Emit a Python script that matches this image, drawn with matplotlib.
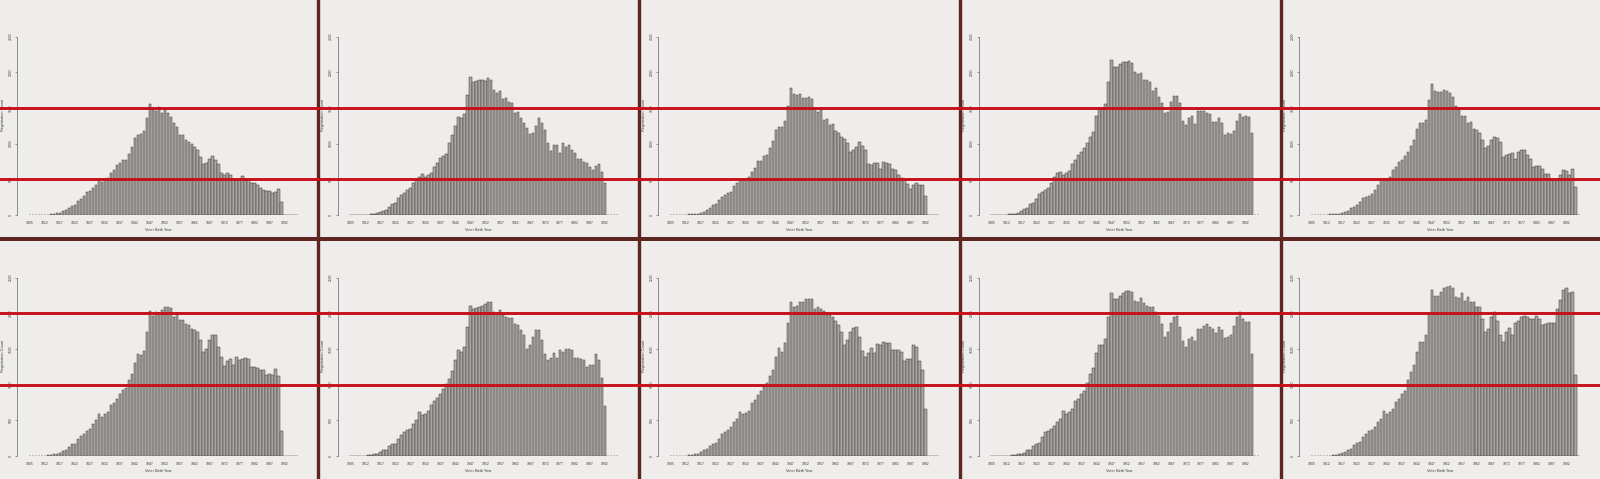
import numpy as np
import matplotlib.pyplot as plt
from matplotlib.lines import Line2D

plt.rcParams["font.family"] = ["Liberation Sans", "DejaVu Sans"]

W_PX, H_PX = 1600, 479

X_TICK_LABELS = ["1905", "1912", "1917", "1922", "1927", "1932", "1937", "1942", "1947",
                 "1952", "1957", "1962", "1967", "1972", "1977", "1982", "1987", "1992"]
Y_TICKS = [0, 500, 1000, 1500, 2000, 2500]
X_LABEL = "Voter Birth Year"
Y_LABEL = "Registration Count"

# reference lines drawn across each row
TOP_REF_LINES = [500, 1500]
BOTTOM_REF_LINES = [1000, 2000]

# registration counts per birth-year bar
top_1 = [0, 0, 0, 0, 0, 0,
         5, 10, 20, 25, 35, 55, 70, 95, 130, 140,
         200, 225, 265, 320, 330, 375, 420, 485, 465, 505,
         515, 585, 630, 700, 725, 770, 770, 855, 960, 1075,
         1120, 1130, 1180, 1355, 1550, 1470, 1460, 1510, 1425, 1480,
         1435, 1380, 1285, 1230, 1125, 1120, 1050, 1030, 995, 960,
         910, 820, 715, 725, 780, 825, 770, 715, 590, 565,
         595, 560, 500, 490, 490, 550, 490, 500, 445, 445,
         415, 375, 350, 335, 330, 305, 320, 360, 180,
         0, 0, 0, 0, 0]
top_2 = [0, 0, 0, 0, 0, 0,
         5, 10, 15, 25, 40, 60, 70, 115, 155, 175,
         235, 280, 305, 350, 375, 445, 490, 535, 575, 535,
         560, 585, 680, 725, 795, 830, 855, 1015, 1120, 1250,
         1370, 1355, 1415, 1680, 1930, 1870, 1885, 1890, 1890, 1880,
         1920, 1890, 1750, 1705, 1745, 1625, 1635, 1590, 1575, 1435,
         1450, 1355, 1295, 1215, 1135, 1145, 1250, 1355, 1285, 1190,
         1015, 900, 980, 980, 875, 1005, 960, 980, 910, 865,
         785, 780, 740, 725, 680, 630, 690, 710, 600, 455,
         0, 0, 0, 0]
top_3 = [0, 0, 0, 0, 0, 0,
         10, 10, 15, 20, 35, 45, 70, 100, 140, 155,
         205, 255, 280, 315, 325, 400, 445, 490, 500, 510,
         535, 605, 665, 755, 760, 830, 845, 945, 1035, 1190,
         1240, 1240, 1320, 1535, 1780, 1700, 1685, 1700, 1645, 1645,
         1655, 1620, 1490, 1450, 1475, 1335, 1350, 1265, 1275, 1180,
         1150, 1100, 1060, 1015, 885, 915, 955, 1030, 965, 905,
         710, 700, 735, 730, 650, 745, 730, 720, 650, 625,
         560, 520, 490, 430, 370, 420, 450, 420, 420, 265,
         0, 0, 0, 0]
top_4 = [0, 0, 0, 0, 0,
         5, 10, 15, 20, 35, 55, 80, 105, 155, 170, 230, 290, 320, 350, 380,
         450, 535, 585, 600, 560, 585, 620, 715, 770, 835,
         890, 935, 1005, 1100, 1170, 1390, 1495, 1495, 1555, 1870,
         2175, 2080, 2080, 2115, 2140, 2145, 2155, 2135, 2010, 1975,
         1995, 1890, 1890, 1870, 1745, 1775, 1660, 1565, 1435, 1450,
         1590, 1670, 1670, 1575, 1320, 1260, 1355, 1390, 1275, 1460,
         1465, 1460, 1425, 1415, 1300, 1310, 1355, 1285,
         1120, 1145, 1130, 1180, 1320, 1415, 1380, 1395, 1380, 1145,
         0, 0]
top_5 = [0, 0, 0, 0, 0, 0,
         10, 10, 15, 20, 30, 45, 55, 95, 115, 140,
         185, 240, 255, 270, 300, 350, 420, 500, 500, 510,
         535, 630, 675, 745, 770, 825, 880, 965, 1055, 1210,
         1295, 1295, 1335, 1615, 1835, 1745, 1720, 1730, 1755, 1735,
         1705, 1660, 1535, 1495, 1395, 1395, 1295, 1300, 1200, 1185,
         1155, 1045, 940, 965, 1045, 1100, 1080, 1030, 815, 835,
         850, 865, 780, 885, 905, 905, 835, 790, 675, 690,
         690, 640, 570, 570, 500, 490, 490, 560, 635, 620,
         560, 640, 395,
         0]
bottom_1 = [0, 0, 0, 0, 0,
            5, 10, 15, 25, 35, 45, 70, 85, 130, 165,
            175, 245, 285, 315, 355, 385, 455, 500, 595, 550,
            585, 610, 710, 750, 805, 865, 920, 955, 1060, 1155,
            1305, 1430, 1410, 1475, 1745, 2035, 1965, 2015, 2000, 2050,
            2095, 2085, 2075, 1950, 2000, 1910, 1905, 1850, 1840, 1780,
            1760, 1735, 1620, 1455, 1500, 1620, 1690, 1690, 1525, 1385,
            1255, 1330, 1360, 1280, 1395, 1340, 1360, 1370, 1360, 1245,
            1245, 1235, 1200, 1200, 1140, 1145, 1130, 1215, 1120, 350,
            0, 0, 0, 0, 0]
bottom_2 = [0, 0, 0, 0, 0,
            5, 10, 15, 25, 35, 50, 85, 85, 140, 165,
            175, 245, 300, 340, 370, 385, 445, 510, 610, 570,
            595, 630, 720, 765, 820, 875, 945, 1015, 1085, 1195,
            1350, 1480, 1455, 1530, 1815, 2105, 2060, 2070, 2095, 2105,
            2130, 2160, 2160, 2015, 1990, 2050, 1975, 1945, 1935, 1930,
            1850, 1830, 1765, 1690, 1500, 1560, 1675, 1765, 1765, 1620,
            1430, 1340, 1370, 1445, 1370, 1490, 1455, 1495, 1500, 1480,
            1380, 1370, 1360, 1340, 1245, 1270, 1270, 1430, 1350, 1100,
            705,
            0, 0, 0, 0]
bottom_3 = [0, 0, 0, 0, 0,
            5, 10, 15, 25, 35, 50, 85, 95, 140, 175,
            185, 245, 310, 340, 365, 410, 470, 515, 620, 585,
            605, 635, 745, 780, 850, 910, 965, 1030, 1115, 1210,
            1385, 1510, 1465, 1580, 1865, 2160, 2085, 2105, 2155, 2160,
            2200, 2200, 2195, 2060, 2095, 2060, 2030, 1975, 1980, 1945,
            1895, 1835, 1745, 1550, 1620, 1735, 1800, 1805, 1675, 1475,
            1395, 1445, 1510, 1440, 1570, 1560, 1595, 1585, 1585, 1480,
            1480, 1490, 1465, 1330, 1365, 1360, 1550, 1535, 1330, 1210,
            665,
            0, 0, 0, 0]
bottom_4 = [0, 0, 0, 0, 0, 0,
            5, 10, 15, 25, 35, 45, 85, 90, 140, 175,
            185, 260, 330, 355, 385, 420, 480, 525, 630, 595,
            620, 655, 770, 805, 875, 905, 1020, 1155, 1230, 1440,
            1560, 1550, 1640, 1945, 2290, 2200, 2200, 2245, 2280, 2310,
            2315, 2300, 2170, 2160, 2215, 2145, 2105, 2095, 2095, 2015,
            1965, 1850, 1675, 1735, 1865, 1955, 1965, 1815, 1615, 1525,
            1640, 1675, 1615, 1785, 1785, 1825, 1850, 1815, 1775, 1725,
            1805, 1760, 1650, 1665, 1695, 1825, 1945, 2015, 1920, 1885,
            1885, 1425,
            0, 0]
bottom_5 = [0, 0, 0, 0, 0, 0,
            5, 10, 15, 25, 45, 50, 85, 95, 155, 185,
            200, 270, 315, 355, 370, 410, 480, 515, 630, 595,
            620, 665, 760, 805, 875, 910, 1060, 1175, 1270, 1465,
            1595, 1595, 1690, 1990, 2325, 2250, 2250, 2295, 2355, 2375,
            2385, 2355, 2230, 2215, 2285, 2175, 2225, 2160, 2160, 2085,
            2085, 1920, 1735, 1780, 1945, 2015, 1895, 1690, 1605, 1735,
            1790, 1690, 1860, 1895, 1945, 1965, 1945, 1920, 1915, 1965,
            1920, 1830, 1850, 1860, 1860, 1860, 2060, 2185, 2325, 2355,
            2280, 2295, 1140,
            0]

TOP_ROW = [top_1, top_2, top_3, top_4, top_5]
BOTTOM_ROW = [bottom_1, bottom_2, bottom_3, bottom_4, bottom_5]

BG = "#eeedeb"
BAR_FILL = "#aaa5a1"
BAR_EDGE = "#3c3836"
TEXT = "#3a3a3a"
SEP_COLOR = "#5e2620"
RED = "#c8101a"

# layout, in pixels of the final picture
BAR_STEP = 2.995        # px per bar
FIRST_BAR_X = 30.0      # centre of first bar in the first column
COL_STEP = 320.5
X_MIN, X_MAX = -4.2, 89.7
AXIS_HEIGHT = 178.3     # 0 .. 2500
ROW_ZERO_Y = [215.0, 456.0]
SEP_X = [317.5, 638.5, 960.0, 1281.0]
SEP_Y = 239.0


def px_rect(left, zero_y, width, height):
    return [left / W_PX, 1 - zero_y / H_PX, width / W_PX, height / H_PX]


def draw_panel(fig, counts, col, zero_y):
    x0 = FIRST_BAR_X + COL_STEP * col
    left = x0 + X_MIN * BAR_STEP
    width = (X_MAX - X_MIN) * BAR_STEP
    ax = fig.add_axes(px_rect(left, zero_y, width, AXIS_HEIGHT))
    ax.set_facecolor("none")

    x = np.arange(len(counts))
    ax.bar(x, counts, width=0.82, color=BAR_FILL, edgecolor=BAR_EDGE, linewidth=0.35)

    ax.set_xlim(X_MIN, X_MAX)
    ax.set_ylim(0, Y_TICKS[-1])
    for s in ["top", "right", "bottom"]:
        ax.spines[s].set_visible(False)
    ax.spines["left"].set_linewidth(0.45)
    ax.spines["left"].set_color("#555555")

    ax.set_xticks(np.arange(len(X_TICK_LABELS)) * 5)
    ax.set_xticklabels(X_TICK_LABELS, fontsize=2.5, color=TEXT)
    ax.tick_params(axis="x", length=0, pad=4.0)

    ax.set_yticks(Y_TICKS)
    ax.set_yticklabels([str(v) for v in Y_TICKS], rotation=90, va="center",
                       fontsize=2.4, color=TEXT)
    ax.tick_params(axis="y", length=1.2, width=0.4, pad=2.4, color="#555555")

    ax.set_xlabel(X_LABEL, fontsize=2.8, color=TEXT, va="center")
    ax.xaxis.set_label_coords(0.5, -15.0 / AXIS_HEIGHT)
    ax.set_ylabel(Y_LABEL, fontsize=2.8, color=TEXT, va="center")
    ax.yaxis.set_label_coords(-14.5 / width, 0.56)
    return ax


def main():
    fig = plt.figure(figsize=(W_PX / 100, H_PX / 100), dpi=100)
    fig.patch.set_facecolor(BG)

    rows = [(TOP_ROW, TOP_REF_LINES), (BOTTOM_ROW, BOTTOM_REF_LINES)]
    for r, (panels, ref_lines) in enumerate(rows):
        axes = [draw_panel(fig, counts, c, ROW_ZERO_Y[r]) for c, counts in enumerate(panels)]

        # panel separators
        for xs in SEP_X:
            fig.add_artist(Line2D([xs / W_PX] * 2, [0, 1], transform=fig.transFigure,
                                  color=SEP_COLOR, lw=2.3, zorder=5))
        fig.add_artist(Line2D([0, 1], [1 - SEP_Y / H_PX] * 2, transform=fig.transFigure,
                              color=SEP_COLOR, lw=2.8, zorder=5))

        # red guide lines, placed at data values of the first panel of the row
        inv = fig.transFigure.inverted()
        for v in ref_lines:
            y_fig = inv.transform(axes[0].transData.transform((0, v)))[1]
            fig.add_artist(Line2D([0, 1], [y_fig, y_fig], transform=fig.transFigure,
                                  color=RED, lw=2.1, zorder=6))

    fig.savefig("out.png", dpi=100, facecolor=fig.get_facecolor())
    plt.close(fig)


if __name__ == "__main__":
    main()
